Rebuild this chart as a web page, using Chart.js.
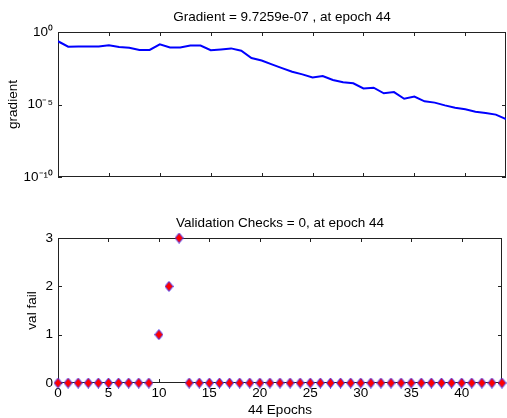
<!doctype html>
<html lang="en">
  <head>
    <meta charset="UTF-8" />
    <title>Training state</title>
    <script src="https://cdn.jsdelivr.net/npm/chart.js"></script>
    <style>
      body {
        margin: 0;
        background: #fff;
      }
      .panel {
        position: absolute;
        left: 0;
      }
    </style>
  </head>
  <body>
    <div class="panel" style="top: 0"><canvas id="gradient" width="507" height="200"></canvas></div>
    <div class="panel" style="top: 200px"><canvas id="valfail" width="507" height="218"></canvas></div>

    <script>
      const epochs = [
        0, 1, 2, 3, 4, 5, 6, 7, 8, 9, 10, 11, 12, 13, 14, 15, 16, 17, 18, 19, 20, 21,
        22, 23, 24, 25, 26, 27, 28, 29, 30, 31, 32, 33, 34, 35, 36, 37, 38, 39, 40,
        41, 42, 43, 44,
      ];
      const gradient = [
        0.23, 0.098, 0.1, 0.1, 0.1, 0.12, 0.093, 0.083, 0.058, 0.058, 0.14, 0.087,
        0.087, 0.115, 0.115, 0.055, 0.063, 0.074, 0.051, 0.016, 0.0107, 0.0059,
        0.0032, 0.0018, 0.0012, 7.4e-4, 9.3e-4, 4.9e-4, 3.4e-4, 2.9e-4, 1.29e-4,
        1.45e-4, 5.9e-5, 7.2e-5, 2.5e-5, 3.5e-5, 1.66e-5, 1.35e-5, 8.7e-6, 6.0e-6,
        4.7e-6, 3.2e-6, 2.6e-6, 2.0e-6, 9.7259e-7,
      ];
      const valFail = [
        0, 0, 0, 0, 0, 0, 0, 0, 0, 0, 1, 2, 3, 0, 0, 0, 0, 0, 0, 0, 0, 0, 0, 0, 0,
        0, 0, 0, 0, 0, 0, 0, 0, 0, 0, 0, 0, 0, 0, 0, 0, 0, 0, 0, 0,
      ];
      const epochTicks = [0, 5, 10, 15, 20, 25, 30, 35, 40];
      const gradTicks = [1e-10, 1e-5, 1];
      const gradTickLabels = ["10\u207B\u00B9\u2070", "10\u207B\u2075", "10\u2070"];
      const valTicks = [0, 1, 2, 3];

      const FONT = { family: "'Liberation Sans', Arial, sans-serif", size: 13.5 };
      const AXIS = "#222";

      // matlab diamond marker is a bit taller than wide
      const diamond = document.createElement("canvas");
      diamond.width = 9;
      diamond.height = 11;
      {
        const c = diamond.getContext("2d");
        c.beginPath();
        c.moveTo(4.5, 0.5);
        c.lineTo(8.5, 5.5);
        c.lineTo(4.5, 10.5);
        c.lineTo(0.5, 5.5);
        c.closePath();
        c.fillStyle = "#ff0000";
        c.fill();
        c.strokeStyle = "#3535ff";
        c.lineWidth = 1;
        c.stroke();
      }

      // matlab style box with ticks pointing inwards
      const boxTicks = {
        id: "boxTicks",
        beforeDatasetsDraw(chart) {
          const { ctx, chartArea: a, scales } = chart;
          const len = 4;
          ctx.save();
          ctx.strokeStyle = AXIS;
          ctx.lineWidth = 1;
          ctx.strokeRect(a.left + 0.5, a.top + 0.5, a.right - a.left - 1, a.bottom - a.top - 1);
          ctx.beginPath();
          scales.x.ticks.forEach((t) => {
            const px = Math.round(scales.x.getPixelForValue(t.value)) + 0.5;
            ctx.moveTo(px, a.bottom);
            ctx.lineTo(px, a.bottom - len);
            ctx.moveTo(px, a.top);
            ctx.lineTo(px, a.top + len);
          });
          scales.y.ticks.forEach((t) => {
            const py = Math.round(scales.y.getPixelForValue(t.value)) + 0.5;
            ctx.moveTo(a.left, py);
            ctx.lineTo(a.left + len, py);
            ctx.moveTo(a.right, py);
            ctx.lineTo(a.right - len, py);
          });
          ctx.stroke();
          ctx.restore();
        },
      };

      const xScale = (showLabels) => ({
        type: "linear",
        min: 0,
        max: 44,
        grid: { display: false, drawTicks: false },
        border: { display: false },
        afterBuildTicks: (s) => {
          s.ticks = epochTicks.map((v) => ({ value: v }));
        },
        afterFit: (s) => {
          s.height = showLabels ? 35 : 23;
        },
        ticks: {
          display: showLabels,
          padding: 2,
          maxRotation: 0,
          color: "#000",
          font: FONT,
        },
        title: {
          display: showLabels,
          text: "44 Epochs",
          color: "#000",
          font: FONT,
          padding: { top: 0, bottom: 0 },
        },
      });

      // the heading sits on an empty top axis so it centres over the plot box
      const headScale = (text, height) => ({
        type: "linear",
        position: "top",
        min: 0,
        max: 44,
        grid: { display: false, drawTicks: false },
        border: { display: false },
        ticks: { display: false },
        afterFit: (s) => {
          s.height = height;
        },
        title: {
          display: true,
          text: text,
          color: "#000",
          font: FONT,
          padding: { top: height - 15 - 8.1, bottom: 0 },
        },
      });

      Chart.defaults.animation = false;

      new Chart(document.getElementById("gradient"), {
        type: "line",
        data: {
          datasets: [
            {
              data: epochs.map((e, i) => ({ x: e, y: gradient[i] })),
              borderColor: "#0000ff",
              borderWidth: 2,
              pointRadius: 0,
              tension: 0,
            },
          ],
        },
        options: {
          responsive: false,
          devicePixelRatio: 1,
          layout: { padding: { right: 1 } },
          plugins: {
            legend: { display: false },
            tooltip: { enabled: false },
          },
          scales: {
            x: xScale(false),
            head: headScale("Gradient = 9.7259e-07 , at epoch 44", 32),
            y: {
              type: "logarithmic",
              min: 1e-10,
              max: 1,
              grid: { display: false, drawTicks: false },
              border: { display: false },
              afterBuildTicks: (s) => {
                s.ticks = gradTicks.map((v) => ({ value: v }));
              },
              afterFit: (s) => {
                s.width = 58;
              },
              ticks: {
                padding: 5,
                color: "#000",
                font: FONT,
                callback: (v) => gradTickLabels[gradTicks.indexOf(v)],
              },
              title: {
                display: true,
                text: "gradient",
                color: "#000",
                font: FONT,
                padding: { top: 5, bottom: 0 },
              },
            },
          },
        },
        plugins: [boxTicks],
      });

      new Chart(document.getElementById("valfail"), {
        type: "line",
        data: {
          datasets: [
            {
              data: epochs.map((e, i) => ({ x: e, y: valFail[i] })),
              showLine: false,
              pointStyle: diamond,
              clip: false,
            },
          ],
        },
        options: {
          responsive: false,
          devicePixelRatio: 1,
          layout: { padding: { right: 1 } },
          plugins: {
            legend: { display: false },
            tooltip: { enabled: false },
          },
          scales: {
            x: xScale(true),
            head: headScale("Validation Checks = 0, at epoch 44", 38),
            y: {
              type: "linear",
              min: 0,
              max: 3,
              grid: { display: false, drawTicks: false },
              border: { display: false },
              afterBuildTicks: (s) => {
                s.ticks = valTicks.map((v) => ({ value: v }));
              },
              afterFit: (s) => {
                s.width = 58;
              },
              ticks: {
                padding: 5,
                color: "#000",
                font: FONT,
              },
              title: {
                display: true,
                text: "val fail",
                color: "#000",
                font: FONT,
                padding: { top: 24, bottom: 0 },
              },
            },
          },
        },
        plugins: [boxTicks],
      });
    </script>
  </body>
</html>
